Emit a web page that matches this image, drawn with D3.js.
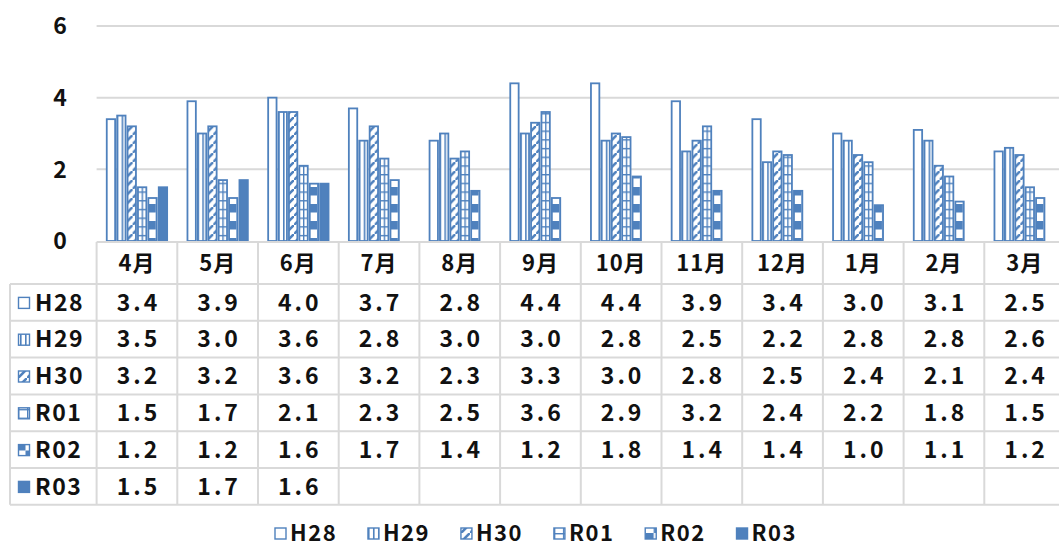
<!DOCTYPE html>
<html>
<head>
<meta charset="utf-8">
<script src="https://cdn.jsdelivr.net/npm/d3@7"></script>
<style>
  body { margin: 0; background: #fff; }
  text { font-family: "Noto Sans CJK JP", "Noto Sans", sans-serif; font-weight: bold; fill: #111; }
</style>
</head>
<body>
<svg id="chart" width="1059" height="548"></svg>
<script>
// data
const months = ['4月', '5月', '6月', '7月', '8月', '9月', '10月', '11月', '12月', '1月', '2月', '3月']
const seriesNames = ['H28', 'H29', 'H30', 'R01', 'R02', 'R03']
const H28 = [3.4, 3.9, 4.0, 3.7, 2.8, 4.4, 4.4, 3.9, 3.4, 3.0, 3.1, 2.5]
const H29 = [3.5, 3.0, 3.6, 2.8, 3.0, 3.0, 2.8, 2.5, 2.2, 2.8, 2.8, 2.6]
const H30 = [3.2, 3.2, 3.6, 3.2, 2.3, 3.3, 3.0, 2.8, 2.5, 2.4, 2.1, 2.4]
const R01 = [1.5, 1.7, 2.1, 2.3, 2.5, 3.6, 2.9, 3.2, 2.4, 2.2, 1.8, 1.5]
const R02 = [1.2, 1.2, 1.6, 1.7, 1.4, 1.2, 1.8, 1.4, 1.4, 1.0, 1.1, 1.2]
const R03 = [1.5, 1.7, 1.6]
const yTicks = [0, 2, 4, 6]

const values = [H28, H29, H30, R01, R02, R03]
const blue = '#4f81bd'
const grid = '#d9d9d9'

const svg = d3.select('#chart')
const plotLeft = 96.6
const colW = 80.7
const plotRight = plotLeft + months.length * colW

//
// patterns
//
const defs = svg.append('defs')

let p = defs.append('pattern').attr('id', 'pat1').attr('patternUnits', 'userSpaceOnUse')
  .attr('width', 5).attr('height', 5)
p.append('rect').attr('width', 5).attr('height', 5).attr('fill', '#fff')
p.append('rect').attr('x', 0).attr('width', 1.6).attr('height', 5).attr('fill', blue)

p = defs.append('pattern').attr('id', 'pat2').attr('patternUnits', 'userSpaceOnUse')
  .attr('width', 9).attr('height', 9)
p.append('rect').attr('width', 9).attr('height', 9).attr('fill', '#fff')
p.append('path').attr('d', 'M-2,11 L11,-2').attr('stroke', blue).attr('stroke-width', 2.6)

p = defs.append('pattern').attr('id', 'pat3').attr('patternUnits', 'userSpaceOnUse')
  .attr('width', 9).attr('height', 8.7)
p.append('rect').attr('width', 9).attr('height', 8.7).attr('fill', '#fff')
p.append('rect').attr('width', 9).attr('height', 1.4).attr('fill', blue)
p.append('rect').attr('width', 1.4).attr('height', 8.7).attr('fill', blue)

p = defs.append('pattern').attr('id', 'pat4').attr('patternUnits', 'userSpaceOnUse')
  .attr('width', 17).attr('height', 17)
p.append('rect').attr('width', 17).attr('height', 17).attr('fill', '#fff')
p.append('rect').attr('width', 8.5).attr('height', 8.5).attr('fill', blue)
p.append('rect').attr('x', 8.5).attr('y', 8.5).attr('width', 8.5).attr('height', 8.5).attr('fill', blue)

const fills = ['#fff', 'url(#pat1)', 'url(#pat2)', 'url(#pat3)', 'url(#pat4)', blue]

//
// scales
//
const y = d3.scaleLinear().domain([0, 6]).range([241, 26])
const x0 = d3.scaleBand().domain(months).range([plotLeft, plotRight])
const x1 = d3.scaleBand().domain(seriesNames).range([0, x0.bandwidth()])
  .paddingInner(0.04).paddingOuter(0.9)

// gridlines + y labels
svg.append('g').selectAll('line').data(yTicks.filter(d => d > 0)).join('line')
  .attr('x1', plotLeft).attr('x2', plotRight)
  .attr('y1', d => y(d)).attr('y2', d => y(d))
  .attr('stroke', grid).attr('stroke-width', 2)

svg.append('g').selectAll('text').data(yTicks).join('text')
  .attr('x', 60).attr('y', d => y(d)).attr('dy', '0.36em')
  .attr('text-anchor', 'middle').attr('font-size', 23)
  .text(d => d)

// bars
const groups = svg.append('g').selectAll('g').data(months).join('g')
  .attr('transform', d => 'translate(' + x0(d) + ',0)')

groups.selectAll('rect')
  .data((m, i) => seriesNames.map((s, k) => ({ s, k, v: values[k][i] })).filter(d => d.v !== undefined))
  .join('rect')
    .attr('x', d => x1(d.s) + 0.8)
    .attr('width', x1.bandwidth() - 1.6)
    .attr('y', d => y(d.v))
    .attr('height', d => y(0) - y(d.v))
    .attr('fill', d => fills[d.k])
    .attr('stroke', blue)
    .attr('stroke-width', 1.8)

//
// data table
//
const tableTop = 242
const headH = 42
const rowH = 36.8
const tableLeft = 10
const rowsTop = tableTop + headH
const tableBottom = rowsTop + seriesNames.length * rowH

const tbl = svg.append('g')

// horizontal lines
tbl.append('line').attr('x1', plotLeft).attr('x2', plotRight)
  .attr('y1', tableTop).attr('y2', tableTop)
  .attr('stroke', grid).attr('stroke-width', 2)
tbl.selectAll('.hl').data(d3.range(seriesNames.length + 1)).join('line')
  .attr('x1', tableLeft).attr('x2', plotRight)
  .attr('y1', i => rowsTop + i * rowH).attr('y2', i => rowsTop + i * rowH)
  .attr('stroke', grid).attr('stroke-width', 2)

// vertical lines
tbl.append('line').attr('x1', tableLeft).attr('x2', tableLeft)
  .attr('y1', rowsTop).attr('y2', tableBottom)
  .attr('stroke', grid).attr('stroke-width', 2)
tbl.selectAll('.vl').data(d3.range(months.length + 1)).join('line')
  .attr('x1', i => plotLeft + i * colW).attr('x2', i => plotLeft + i * colW)
  .attr('y1', tableTop).attr('y2', tableBottom)
  .attr('stroke', grid).attr('stroke-width', 2)

// month headers
tbl.selectAll('.mh').data(months).join('text')
  .attr('x', d => x0(d) + x0.bandwidth() / 2)
  .attr('y', tableTop + headH / 2).attr('dy', '0.36em')
  .attr('text-anchor', 'middle').attr('font-size', 22)
  .style('letter-spacing', '1px')
  .text(d => d)

const fmt = d3.format('.1f')

function legendKey(g, k, kx, ky) {
  g.append('rect')
    .attr('x', kx).attr('y', ky).attr('width', 11).attr('height', 11)
    .attr('fill', fills[k]).attr('stroke', blue).attr('stroke-width', 1.4)
}

seriesNames.forEach((s, k) => {
  const cy = rowsTop + k * rowH + rowH / 2
  legendKey(tbl, k, 18.5, cy - 5)
  tbl.append('text')
    .attr('x', 35).attr('y', cy).attr('dy', '0.36em')
    .attr('font-size', 23).style('letter-spacing', '1.5px')
    .text(s)
  tbl.selectAll(null).data(values[k]).enter().append('text')
    .attr('x', (d, i) => x0(months[i]) + x0.bandwidth() / 2 + 1.5)
    .attr('y', cy).attr('dy', '0.36em')
    .attr('text-anchor', 'middle').attr('font-size', 23)
    .style('letter-spacing', '3px')
    .text(d => fmt(d))
})

//
// legend
//
const leg = svg.append('g')
const items = []
seriesNames.forEach((s, k) => {
  const g = leg.append('g')
  legendKey(g, k, 0, -5)
  const t = g.append('text').attr('x', 15).attr('y', 0).attr('dy', '0.36em')
    .attr('font-size', 22).style('letter-spacing', '1.5px').text(s)
  items.push({ g, w: 15 + t.node().getComputedTextLength() })
})
const legLeft = 275, legRight = 797
const gap = (legRight - legLeft - d3.sum(items, d => d.w)) / (items.length - 1)
let lx = legLeft
items.forEach(it => {
  it.g.attr('transform', 'translate(' + lx + ',533)')
  lx += it.w + gap
})
</script>
</body>
</html>
